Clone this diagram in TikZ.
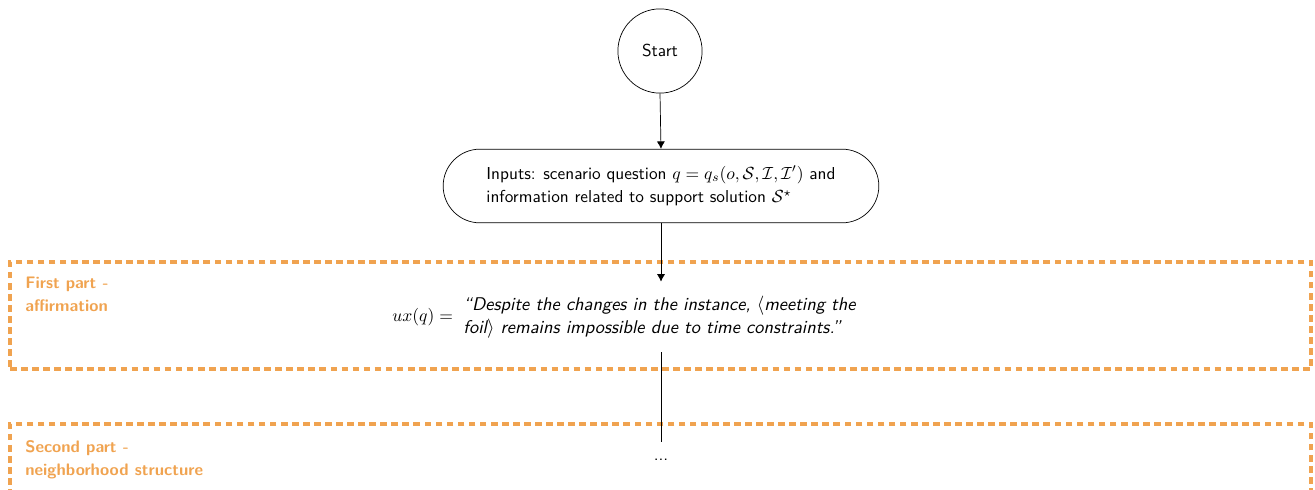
\documentclass[tikz,border=0pt]{standalone}
\usetikzlibrary{shapes.misc,arrows.meta}
\definecolor{partorange}{RGB}{240,163,80}
\tikzset{
  every node/.style={font=\sffamily\fontsize{9.85}{13.2}\selectfont},
  startbox/.style={draw,circle,minimum size=48pt,inner sep=0pt},
  inputbox/.style={draw,rounded rectangle,minimum width=255pt,minimum height=42pt,align=left},
  partbox/.style={draw=partorange,line width=2.2pt,dash pattern=on 3.8pt off 2.5pt,minimum width=741.6pt,minimum height=61pt,inner sep=0pt},
  partlabel/.style={anchor=north west,inner sep=0pt,align=left,text=partorange,font=\sffamily\bfseries\fontsize{9.5}{13}\selectfont},
  arrow/.style={-{Latex[length=4.2pt,width=4.6pt]}},
  conn/.style={line width=0.4pt}
}
\begin{document}
\begin{tikzpicture}[x=0.57pt,y=-0.57pt]
\useasboundingbox (0,0) rectangle (1315,490);
\node[partbox] (part1) at (660.5,315.5) {};
\node[partbox] (part2) at (660.5,477.5) {};
\node[partlabel] (lab1) at (25,277) {First part -\\affirmation};
\node[partlabel] (lab2) at (25,440) {Second part -\\neighborhood structure};
\node[startbox] (start) at (660,51) {Start};
\node[inputbox] (inputs) at (661,186) {Inputs: scenario question $q = q_s(o,\mathcal{S},\mathcal{I},\mathcal{I}')$ and\\information related to support solution $\mathcal{S}^\star$};
\node[minimum height=40pt,inner sep=0pt,anchor=west] (ux) at (392,317) {$ux(q) =$\hspace{0.6em}\parbox[c]{242pt}{\fontsize{10.5}{13}\selectfont\itshape ``Despite the changes in the instance, $\langle$meeting the\\ foil$\rangle$ remains impossible due to time constraints.''}};
\node[minimum height=20.5pt,inner sep=0pt] (dots) at (661,460) {...};
\draw[conn,arrow] (start.south) -- (inputs.north);
\draw[conn,arrow] (inputs.south) -- (inputs.south |- ux.north);
\draw[conn] (ux.south -| dots.north) -- (dots.north);
\end{tikzpicture}
\end{document}
